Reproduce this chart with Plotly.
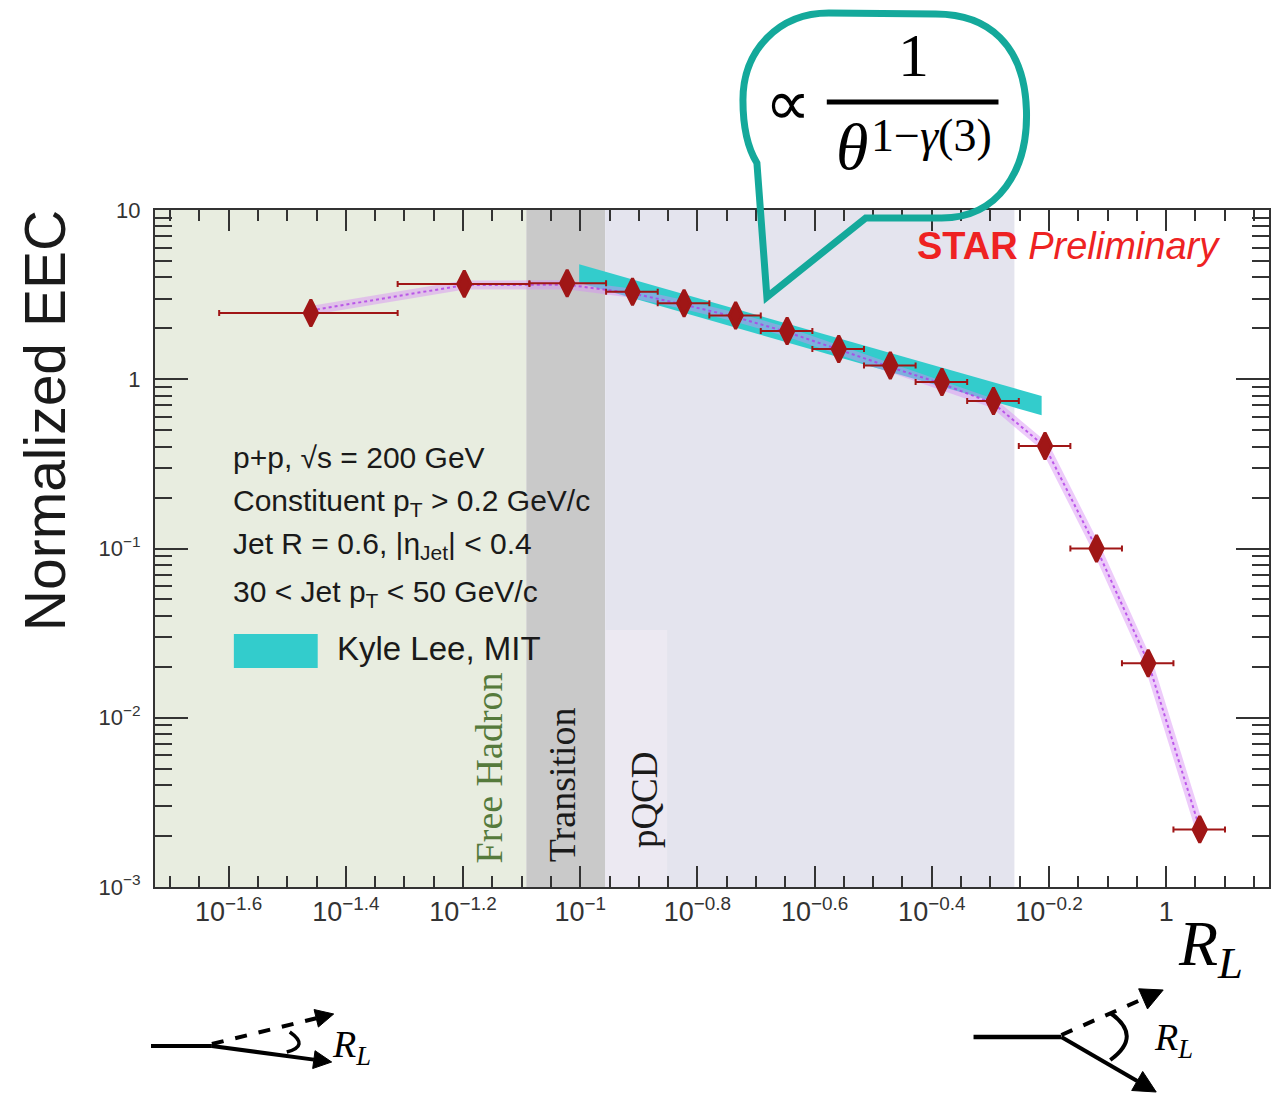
import plotly.graph_objects as go
import numpy as np

# ---------------- data ----------------
bin_lo = [0.0242, 0.0488, 0.0819, 0.1107, 0.1356, 0.1661, 0.2033, 0.2490,
          0.3050, 0.3736, 0.4575, 0.5604, 0.6863, 0.8405, 1.029]
bin_hi = [0.0488, 0.0819, 0.1107, 0.1356, 0.1661, 0.2033, 0.2490, 0.3050,
          0.3736, 0.4575, 0.5604, 0.6863, 0.8405, 1.029, 1.260]
r_l = [0.0347, 0.0634, 0.0950, 0.1228, 0.1504, 0.1842, 0.2255, 0.2762,
       0.3382, 0.4143, 0.5073, 0.6212, 0.7607, 0.9318, 1.141]
eec = [2.46, 3.66, 3.69, 3.29, 2.81, 2.38, 1.93, 1.51,
       1.205, 0.964, 0.743, 0.403, 0.100, 0.0210, 0.00219]

# MC-like dotted band following the data
model_y = [2.55, 3.60, 3.62, 3.22, 2.76, 2.33, 1.90, 1.49,
           1.18, 0.94, 0.72, 0.40, 0.100, 0.0212, 0.00222]

# theory band (Kyle Lee, MIT)
theory_x = [0.0996, 0.613]
theory_hi = [4.78, 0.795]
theory_lo = [3.72, 0.612]

# regions
region_names = ["Free Hadron", "Transition", "pQCD"]
region_edges = [0.0188, 0.0809, 0.1103, 0.5508]
region_colors = ["#E8EDE0", "#C9C9C9", "#E4E4EE"]

x_tick_exps = [-1.6, -1.4, -1.2, -1.0, -0.8, -0.6, -0.4, -0.2, 0.0]
x_tick_text = ["10<sup>\u22121.6</sup>", "10<sup>\u22121.4</sup>", "10<sup>\u22121.2</sup>",
               "10<sup>\u22121</sup>", "10<sup>\u22120.8</sup>", "10<sup>\u22120.6</sup>",
               "10<sup>\u22120.4</sup>", "10<sup>\u22120.2</sup>", "1"]
y_tick_vals = [0.001, 0.01, 0.1, 1, 10]
y_tick_text = ["10<sup>\u22123</sup>", "10<sup>\u22122</sup>", "10<sup>\u22121</sup>", "1", "10"]

# ---------------- geometry ----------------
W, H = 1271, 1094
L, R, T, B = 155, 1271, 210, 887
XR = [-1.7257, 0.1755]
YR = [-3, 1]


def px(x):
    return (x - L) / (R - L)


def py(y):
    return (B - y) / (B - T)


SANS = "Liberation Sans, Arial, sans-serif"
SERIF = "Liberation Serif, Times New Roman, serif"
DARK = "#a01616"

fig = go.Figure()

# theory band
fig.add_trace(go.Scatter(
    x=theory_x + theory_x[::-1], y=theory_hi + theory_lo[::-1],
    fill="toself", fillcolor="#33CCCC", line=dict(width=0, color="#33CCCC"),
    mode="lines", hoverinfo="skip", showlegend=False))

# dotted model band
fig.add_trace(go.Scatter(x=r_l, y=model_y, mode="lines",
                         line=dict(color="rgba(214,140,245,0.45)", width=9),
                         hoverinfo="skip", showlegend=False))
fig.add_trace(go.Scatter(x=r_l, y=model_y, mode="lines",
                         line=dict(color="rgba(175,60,230,0.8)", width=2, dash="dot"),
                         hoverinfo="skip", showlegend=False))

# data points
err_plus = [h - x for h, x in zip(bin_hi, r_l)]
err_minus = [x - lo for x, lo in zip(r_l, bin_lo)]
fig.add_trace(go.Scatter(
    x=r_l, y=eec, mode="markers",
    marker=dict(symbol="diamond-tall", size=19, color=DARK,
                line=dict(color=DARK, width=3)),
    error_x=dict(type="data", symmetric=False, array=err_plus, arrayminus=err_minus,
                 color=DARK, thickness=2, width=3),
    showlegend=False))

shapes = []
# region bands
for i in range(3):
    shapes.append(dict(type="rect", xref="x", yref="paper",
                       x0=region_edges[i], x1=region_edges[i + 1], y0=0, y1=1,
                       fillcolor=region_colors[i], line=dict(width=0), layer="below"))
# pQCD label box
shapes.append(dict(type="rect", xref="paper", yref="paper",
                   x0=px(606), x1=px(668), y0=py(887), y1=py(630),
                   fillcolor="#ECE9F2", line=dict(width=0), layer="below"))
# legend swatch
shapes.append(dict(type="rect", xref="paper", yref="paper",
                   x0=px(234), x1=px(318), y0=py(668), y1=py(634),
                   fillcolor="#33CCCC", line=dict(width=0)))

# speech bubble
TEAL = "#14A99B"


def P(x, y):
    return f"{px(x):.5f},{py(y):.5f}"


bubble = (f"M{P(758,163)} L{P(768,297)} L{P(867,218)} L{P(943,218)} "
          f"C{P(1000,218)} {P(1030,170)} {P(1028,110)} "
          f"C{P(1026,45)} {P(990,14)} {P(937,14)} "
          f"L{P(830,13)} "
          f"C{P(780,13)} {P(744,50)} {P(744,100)} "
          f"C{P(744,130)} {P(750,150)} {P(758,163)} Z")
shapes.append(dict(type="path", xref="paper", yref="paper", path=bubble,
                   line=dict(color=TEAL, width=7), fillcolor="rgba(0,0,0,0)"))
# fraction bar
shapes.append(dict(type="line", xref="paper", yref="paper",
                   x0=px(828), x1=px(1000), y0=py(102), y1=py(102),
                   line=dict(color="black", width=5)))


# bottom diagrams
def arrow(x0, y0, x1, y1, dash="solid", head=18, half=9):
    d = np.array([x1 - x0, y1 - y0], float)
    n = np.hypot(*d)
    u = d / n
    v = np.array([-u[1], u[0]])
    base = np.array([x1, y1]) - u * head
    shapes.append(dict(type="line", xref="paper", yref="paper",
                       x0=px(x0), y0=py(y0), x1=px(base[0]), y1=py(base[1]),
                       line=dict(color="black", width=4, dash=dash)))
    p1 = base + v * half
    p2 = base - v * half
    shapes.append(dict(type="path", xref="paper", yref="paper",
                       path=f"M{P(x1,y1)} L{P(p1[0],p1[1])} L{P(p2[0],p2[1])} Z",
                       fillcolor="black", line=dict(color="black", width=1)))


shapes.append(dict(type="line", xref="paper", yref="paper",
                   x0=px(151), y0=py(1046), x1=px(212), y1=py(1046),
                   line=dict(color="black", width=4)))
arrow(212, 1046, 332, 1062)
arrow(212, 1044, 334, 1014, dash="dash")
shapes.append(dict(type="path", xref="paper", yref="paper",
                   path=f"M{P(290,1032)} Q{P(310,1046)} {P(287,1052)}",
                   line=dict(color="black", width=3.5)))

shapes.append(dict(type="line", xref="paper", yref="paper",
                   x0=px(975), y0=py(1037), x1=px(1063), y1=py(1037),
                   line=dict(color="black", width=4.5)))
arrow(1063, 1037, 1158, 1092, head=22, half=11)
arrow(1063, 1035, 1165, 990, dash="dash", head=22, half=11)
shapes.append(dict(type="path", xref="paper", yref="paper",
                   path=f"M{P(1112,1013)} Q{P(1145,1036)} {P(1112,1060)}",
                   line=dict(color="black", width=4)))

ann = []


def text(x, y, s, size, font=SANS, color="#1a1a1a", xanchor="center", yanchor="middle",
         angle=0, **kw):
    ann.append(dict(xref="paper", yref="paper", x=px(x), y=py(y), text=s,
                    showarrow=False, xanchor=xanchor, yanchor=yanchor, textangle=angle,
                    font=dict(family=font, size=size, color=color), **kw))


# stats box
text(231, 457, "p+p, \u221as = 200 GeV", 30, xanchor="left")
text(231, 502, "Constituent p<sub>T</sub> > 0.2 GeV/c", 30, xanchor="left")
text(231, 545, "Jet R = 0.6, |\u03b7<sub>Jet</sub>| < 0.4", 30, xanchor="left")
text(231, 593, "30 < Jet p<sub>T</sub> < 50 GeV/c", 30, xanchor="left")
text(335, 648, "Kyle Lee, MIT", 33, xanchor="left")

# STAR preliminary
text(916, 246, "<b>STAR</b> <i>Preliminary</i>", 38, color="#EE2222", xanchor="left")

# region labels
text(490, 768, region_names[0], 38, font=SERIF, color="#557A3C", angle=-90)
text(563, 785, region_names[1], 38, font=SERIF, color="#1a1a1a", angle=-90)
text(645, 800, region_names[2], 37, font=SERIF, color="#1a1a1a", angle=-90)

# axis titles
text(45, 421, "Normalized EEC", 57, color="#1a1a1a", angle=-90)
text(1212, 948, "<i>R</i><sub><i>L</i></sub>", 64, font=SERIF, color="black")

# formula
text(789, 103, "\u221d", 64, font=SANS, color="black")
text(915, 55, "1", 62, font=SERIF, color="black")
text(853, 146, "<i>\u03b8</i>", 66, font=SERIF, color="black")
text(870, 136, "1\u2212<i>\u03b3</i>(3)", 46, font=SERIF, color="black", xanchor="left")

# diagram labels
text(352, 1047, "<i>R</i><sub><i>L</i></sub>", 38, font=SERIF, color="black")
text(1175, 1040, "<i>R</i><sub><i>L</i></sub>", 38, font=SERIF, color="black")

x_minor = [10 ** e for e in np.arange(-1.70, 0.18, 0.05)
           if abs(round(e / 0.2) * 0.2 - e) > 1e-6]
y_minor = [k * 10.0 ** e for e in range(-3, 1) for k in range(2, 10)]

fig.update_layout(
    width=W, height=H,
    margin=dict(l=L, r=W - R, t=T, b=H - B, pad=0),
    paper_bgcolor="white", plot_bgcolor="white",
    shapes=shapes, annotations=ann, showlegend=False,
    xaxis=dict(type="log", range=XR, showgrid=False, zeroline=False,
               tickmode="array", tickvals=[10 ** e for e in x_tick_exps], ticktext=x_tick_text,
               ticks="inside", ticklen=21, tickwidth=2, tickcolor="#333",
               showline=True, linecolor="#333", linewidth=2, mirror="ticks",
               tickfont=dict(family=SANS, size=27, color="#333"),
               minor=dict(tickmode="array", tickvals=x_minor, ticks="inside",
                          ticklen=11, tickwidth=1.5, tickcolor="#333", showgrid=False)),
    yaxis=dict(type="log", range=YR, showgrid=False, zeroline=False,
               tickmode="array", tickvals=y_tick_vals, ticktext=y_tick_text,
               ticks="inside", ticklen=33, tickwidth=2, tickcolor="#333",
               showline=True, linecolor="#333", linewidth=2, mirror="ticks",
               ticklabelstandoff=8,
               tickfont=dict(family=SANS, size=22, color="#333"),
               minor=dict(tickmode="array", tickvals=y_minor, ticks="inside",
                          ticklen=17, tickwidth=2, tickcolor="#333", showgrid=False)),
)

fig.write_html("out.html")
